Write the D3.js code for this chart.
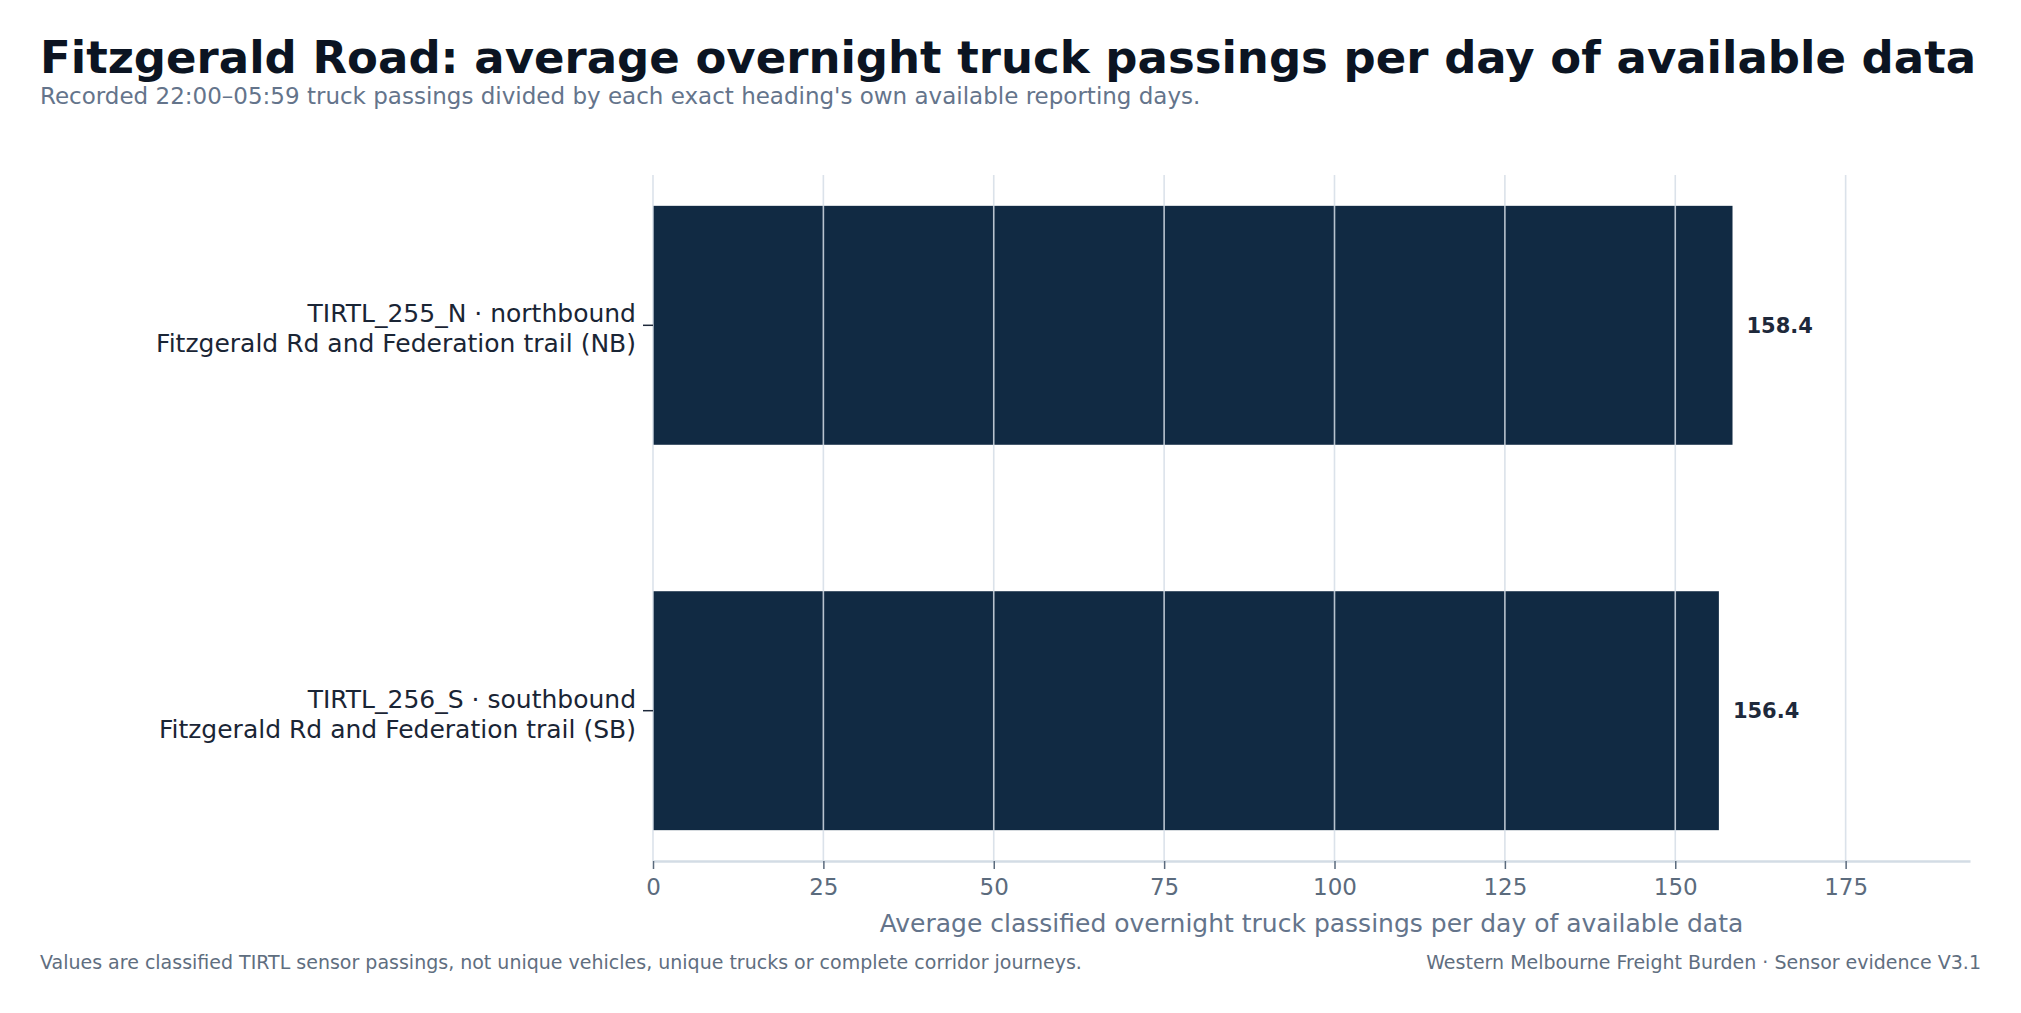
<!DOCTYPE html>
<html>
<head>
<meta charset="utf-8">
<script src="https://cdn.jsdelivr.net/npm/d3@7"></script>
<style>
  body { margin: 0; background: #ffffff; }
  svg { display: block; font-family: "DejaVu Sans", sans-serif; }
</style>
</head>
<body>
<div id="chart"></div>
<script>
// chart values
var sensorIds = ['TIRTL_255_N · northbound', 'TIRTL_256_S · southbound'];
var siteNames = ['Fitzgerald Rd and Federation trail (NB)', 'Fitzgerald Rd and Federation trail (SB)'];
var avgPassings = [158.4, 156.4];
var xTicks = [0, 25, 50, 75, 100, 125, 150, 175];

var titleText = 'Fitzgerald Road: average overnight truck passings per day of available data';
var subtitleText = "Recorded 22:00–05:59 truck passings divided by each exact heading's own available reporting days.";
var xAxisTitle = 'Average classified overnight truck passings per day of available data';
var footLeft = 'Values are classified TIRTL sensor passings, not unique vehicles, unique trucks or complete corridor journeys.';
var footRight = 'Western Melbourne Freight Burden · Sensor evidence V3.1';

var fontStack = '"DejaVu Sans", sans-serif';

var svgWidth = 2021;
var svgHeight = 1013;

var margin = { top: 175, right: 51, bottom: 152, left: 653 };
var width = svgWidth - margin.left - margin.right;
var height = svgHeight - margin.top - margin.bottom;

var svg = d3.select('#chart')
    .append('svg')
    .attr('width', svgWidth)
    .attr('height', svgHeight);

// title + subtitle
svg.append('text')
    .attr('x', 40)
    .attr('y', 73)
    .attr('font-size', 45)
    .attr('font-weight', 'bold')
    .attr('fill', '#0b1422')
    .text(titleText);

svg.append('text')
    .attr('x', 40)
    .attr('y', 104)
    .attr('font-size', 23)
    .attr('fill', '#64748b')
    .text(subtitleText);

var chartGroup = svg.append('g')
    .attr('transform', `translate(${margin.left}, ${margin.top})`);

var rows = sensorIds.map(function(id, i) {
    return { id: id, site: siteNames[i], value: avgPassings[i] };
});

var xScale = d3.scaleLinear()
    .domain([0, d3.max(avgPassings) * 1.22])
    .range([0, width]);

var yScale = d3.scaleBand()
    .domain(sensorIds)
    .range([0, height])
    .paddingInner(0.38)
    .paddingOuter(0.08);

// bars
chartGroup.selectAll('.bar')
    .data(rows)
    .enter()
    .append('rect')
    .attr('class', 'bar')
    .attr('x', xScale(0))
    .attr('y', d => yScale(d.id))
    .attr('width', d => xScale(d.value) - xScale(0))
    .attr('height', yScale.bandwidth())
    .attr('fill', '#112a43');

// vertical grid, drawn over the bars
chartGroup.selectAll('.grid')
    .data(xTicks)
    .enter()
    .append('line')
    .attr('x1', d => xScale(d))
    .attr('x2', d => xScale(d))
    .attr('y1', 0)
    .attr('y2', height)
    .attr('stroke', '#d5dde6')
    .attr('stroke-opacity', 0.85)
    .attr('stroke-width', 1.6);

// value labels
chartGroup.selectAll('.valueLabel')
    .data(rows)
    .enter()
    .append('text')
    .attr('x', d => xScale(d.value) + 14)
    .attr('y', d => yScale(d.id) + yScale.bandwidth() / 2)
    .attr('dy', '0.35em')
    .attr('font-size', 21)
    .attr('font-weight', 'bold')
    .attr('fill', '#1e293b')
    .text(d => d3.format('.1f')(d.value));

// x axis
var bottomAxis = d3.axisBottom(xScale)
    .tickValues(xTicks)
    .tickSize(8)
    .tickPadding(10)
    .tickSizeOuter(0);

var xAxisG = chartGroup.append('g')
    .attr('transform', `translate(0, ${height})`)
    .call(bottomAxis);

xAxisG.attr('font-family', fontStack);
xAxisG.select('.domain')
    .attr('stroke', '#d3dce5')
    .attr('stroke-width', 2.5);
xAxisG.selectAll('.tick line')
    .attr('stroke', '#5b6b7d')
    .attr('stroke-width', 1.5);
xAxisG.selectAll('.tick text')
    .attr('font-size', 23)
    .attr('fill', '#5b6b7d');

// y axis
var leftAxis = d3.axisLeft(yScale)
    .tickSize(10)
    .tickPadding(10);

var yAxisG = chartGroup.append('g')
    .call(leftAxis);

yAxisG.attr('font-family', fontStack);
yAxisG.select('.domain').remove();
yAxisG.selectAll('.tick line')
    .attr('stroke', '#1e293b')
    .attr('stroke-width', 1.5);

yAxisG.selectAll('.tick text').remove();
yAxisG.selectAll('.tick')
    .append('text')
    .attr('text-anchor', 'end')
    .attr('font-family', fontStack)
    .attr('font-size', 25)
    .attr('fill', '#1a2535')
    .each(function(d, i) {
        var t = d3.select(this);
        t.append('tspan').attr('x', -17).attr('dy', '-0.12em').text(d);
        t.append('tspan').attr('x', -17).attr('dy', '1.2em').text(siteNames[i]);
    });

// axis title
chartGroup.append('text')
    .attr('x', width / 2)
    .attr('y', height + 71)
    .attr('text-anchor', 'middle')
    .attr('font-size', 25)
    .attr('fill', '#64748b')
    .text(xAxisTitle);

// footers
svg.append('text')
    .attr('x', 40)
    .attr('y', 969)
    .attr('font-size', 19)
    .attr('fill', '#5f6e80')
    .text(footLeft);

svg.append('text')
    .attr('x', 1981)
    .attr('y', 969)
    .attr('text-anchor', 'end')
    .attr('font-size', 19)
    .attr('fill', '#5f6e80')
    .text(footRight);
</script>
</body>
</html>
